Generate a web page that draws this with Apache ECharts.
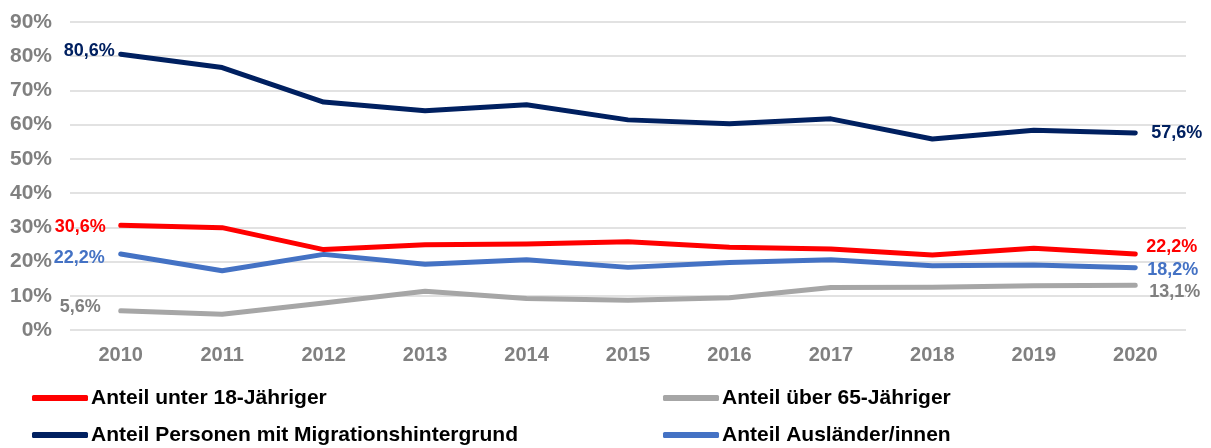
<!DOCTYPE html>
<html>
<head>
<meta charset="utf-8">
<script src="https://cdn.jsdelivr.net/npm/echarts@6/dist/echarts.min.js"></script>
<style>
  html, body { margin: 0; padding: 0; background: #fff; }
  #chart { width: 1211px; height: 448px; }
</style>
</head>
<body>
<div id="chart"></div>
<script>
const years = ['2010', '2011', '2012', '2013', '2014', '2015', '2016', '2017', '2018', '2019', '2020']
const yTicks = [0, 10, 20, 30, 40, 50, 60, 70, 80, 90]

const unter18 = [30.6, 29.9, 23.5, 24.9, 25.1, 25.8, 24.2, 23.7, 21.9, 23.9, 22.2]
const ueber65 = [5.6, 4.6, 7.9, 11.3, 9.2, 8.7, 9.4, 12.4, 12.5, 12.9, 13.1]
const migration = [80.6, 76.7, 66.6, 64.1, 65.8, 61.4, 60.3, 61.7, 55.8, 58.4, 57.6]
const auslaender = [22.2, 17.3, 22.1, 19.2, 20.5, 18.3, 19.7, 20.5, 18.8, 19.0, 18.2]

const names = [
  'Anteil unter 18-Jähriger',
  'Anteil über 65-Jähriger',
  'Anteil Personen mit Migrationshintergrund',
  'Anteil Ausländer/innen'
]

const FONT = 'Liberation Sans, Arial, sans-serif'

// label only first and last point; l / r = [distance, dy]
function withLabels(values, color, l, r) {
  return values.map((v, i) => {
    if (i !== 0 && i !== values.length - 1) return v
    const first = i === 0
    const p = first ? l : r
    return {
      value: v,
      label: {
        show: true,
        position: first ? 'left' : 'right',
        distance: p[0],
        offset: [0, p[1]],
        color: color,
        fontFamily: FONT,
        fontWeight: 'bold',
        fontSize: 18,
        formatter: d => d.value.toFixed(1).replace('.', ',') + '%'
      }
    }
  })
}

function lineSeries(name, values, color, labelColor, l, r) {
  return {
    name: name,
    type: 'line',
    data: withLabels(values, labelColor, l, r),
    symbol: 'circle',
    symbolSize: 0,
    lineStyle: { color: color, width: 5, cap: 'round', join: 'round' },
    itemStyle: { color: color },
    animation: false
  }
}

function legendItem(name, left, top) {
  return {
    left: left,
    top: top,
    padding: 0,
    data: [name],
    icon: 'roundRect',
    itemWidth: 56,
    itemHeight: 6,
    textStyle: {
      color: '#000',
      fontFamily: FONT,
      fontWeight: 'bold',
      fontSize: 21,
      lineHeight: 24,
      padding: [0, 0, 0, -2]
    }
  }
}

const chart = echarts.init(document.getElementById('chart'))
chart.setOption({
  backgroundColor: '#fff',
  grid: { left: 70, right: 25, top: 22, bottom: 118 },
  xAxis: {
    type: 'category',
    data: years,
    boundaryGap: true,
    axisLine: { show: false },
    axisTick: { show: false },
    axisLabel: {
      color: '#808080',
      fontFamily: FONT,
      fontWeight: 'bold',
      fontSize: 20,
      margin: 15
    }
  },
  yAxis: {
    type: 'value',
    min: yTicks[0],
    max: yTicks[yTicks.length - 1],
    interval: 10,
    axisLine: { show: false },
    axisTick: { show: false },
    splitLine: { lineStyle: { color: '#d9d9d9', width: 1.5 } },
    axisLabel: {
      color: '#808080',
      fontFamily: FONT,
      fontWeight: 'bold',
      fontSize: 21,
      margin: 18,
      formatter: '{value}%'
    }
  },
  legend: [
    legendItem(names[0], 32, 386),
    legendItem(names[2], 32, 423),
    legendItem(names[1], 663, 386),
    legendItem(names[3], 663, 423)
  ],
  series: [
    lineSeries(names[0], unter18, '#ff0000', '#ff0000', [15, 2], [11, -7]),
    lineSeries(names[1], ueber65, '#a6a6a6', '#7f7f7f', [20, -4], [14, 7]),
    lineSeries(names[2], migration, '#002060', '#002060', [6, -3], [16, 0]),
    lineSeries(names[3], auslaender, '#4472c4', '#4472c4', [16, 4], [12, 2])
  ]
})
</script>
</body>
</html>
